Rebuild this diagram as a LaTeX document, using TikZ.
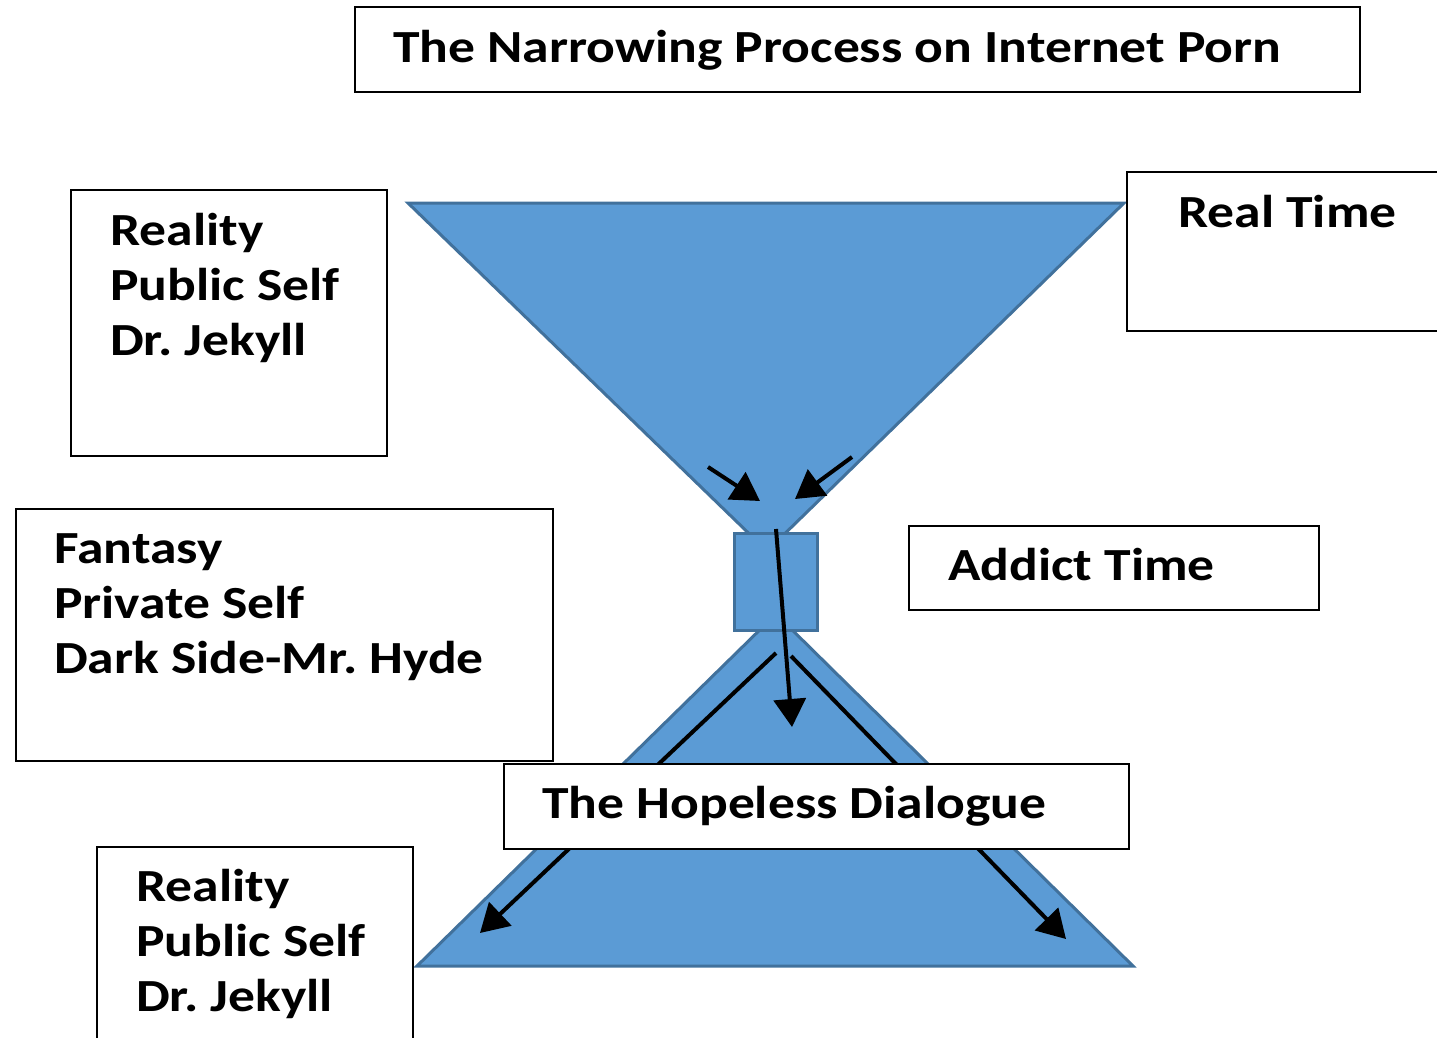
\documentclass[tikz,border=0pt]{standalone}
\usepackage{fontspec}
\setmainfont{Carlito}[FakeStretch=1.165]
\usetikzlibrary{arrows.meta}
\definecolor{fillblue}{HTML}{5B9BD5}
\definecolor{edgeblue}{HTML}{41719C}
\tikzset{
  box/.style={draw=black, line width=2.5pt, fill=white},
  lbl/.style={anchor=base west, inner sep=0pt, font=\fontsize{46}{55}\selectfont\bfseries\frenchspacing},
  blueshape/.style={draw=edgeblue, fill=fillblue, line width=3pt, line join=miter},
  arr/.style={draw=black, line width=4pt, -{Triangle[length=28pt,width=32pt]}},
}
\begin{document}
\begin{tikzpicture}[x=1pt,y=-1pt]
\useasboundingbox (0,0) rectangle (1437,1037);
% title
\draw[box] (355,7) rectangle (1360,92);
\node[lbl] (title) at (393,62) {The Narrowing Process on Internet Porn};
% hourglass
\path[blueshape] (408,203) -- (1124,203) -- (767,551) -- cycle;
\path[blueshape] (417,966) -- (1133,966) -- (776,614) -- cycle;
\path[blueshape] (734,533) rectangle (817,630);
% arrows in top funnel
\coordinate (a1s) at (708,467); \coordinate (a1e) at (760,501);
\coordinate (a2s) at (852,457); \coordinate (a2e) at (795,499);
\draw[arr] (a1s) -- (a1e);
\draw[arr] (a2s) -- (a2e);
\coordinate (vs) at (776,529); \coordinate (ve) at (792,727);
\draw[arr] (vs) -- (ve);
\coordinate (ls) at (776,653); \coordinate (le) at (480,933);
\coordinate (rs) at (791,656); \coordinate (re) at (1066,939);
\draw[arr] (ls) -- (le);
\draw[arr] (rs) -- (re);
% boxes
\draw[box] (71,190) rectangle (387,456);
\node[lbl] (r1) at (110,245) {Reality};
\node[lbl] (p1) at (110,300) {Public Self};
\node[lbl] (d1) at (110,355) {Dr. Jekyll};
\draw[box] (1127,172) rectangle (1445,331);
\node[lbl] (rt) at (1178,227) {Real Time};
\draw[box] (16,509) rectangle (553,761);
\node[lbl] (f1) at (54,563) {Fantasy};
\node[lbl] (f2) at (54,618) {Private Self};
\node[lbl] (f3) at (54,673) {Dark Side-Mr. Hyde};
\draw[box] (909,526) rectangle (1319,610);
\node[lbl] (at) at (948,580) {Addict Time};
\draw[box] (504,764) rectangle (1129,849);
\node[lbl] (hd) at (542,818) {The Hopeless Dialogue};
\draw[box] (97,847) rectangle (413,1050);
\node[lbl] (r2) at (136,901) {Reality};
\node[lbl] (p2) at (136,956) {Public Self};
\node[lbl] (d2) at (136,1011) {Dr. Jekyll};
\end{tikzpicture}
\end{document}
